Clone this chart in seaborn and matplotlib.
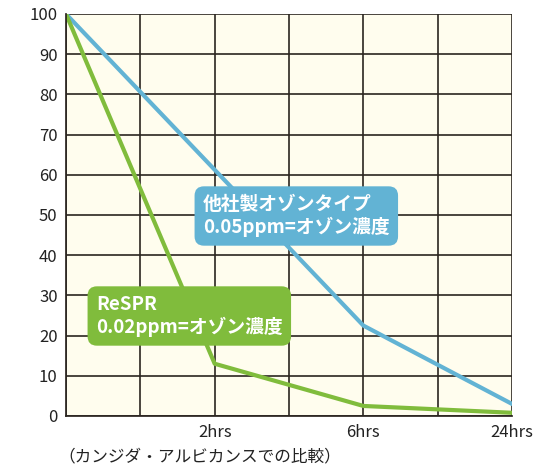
import matplotlib
matplotlib.use("Agg")
import matplotlib.pyplot as plt
import seaborn as sns
import pandas as pd

sns.set_theme(style="white")
plt.rcParams['font.family'] = ['Noto Sans CJK JP', 'DejaVu Sans']

x_pos = [0, 2, 4, 6]
respr = [100, 13, 2.5, 0.8]
x_other = [0, 4, 6]
y_other = [100, 22.5, 3]
tick_pos = [2, 4, 6]
tick_labels = ["2hrs", "6hrs", "24hrs"]

fig = plt.figure(figsize=(5.6, 4.7), dpi=100)
ax = fig.add_axes([66/560, 1-416/470, (512-66)/560, (416-14)/470])
ax.set_facecolor("#fffdee")

df_o = pd.DataFrame({"x": x_other, "y": y_other})
df_r = pd.DataFrame({"x": x_pos, "y": respr})
sns.lineplot(data=df_o, x="x", y="y", ax=ax, color="#62b3d4", lw=3)
sns.lineplot(data=df_r, x="x", y="y", ax=ax, color="#80bc3c", lw=3)

ax.set_xlim(0, 6)
ax.set_ylim(0, 100)
ax.set_yticks(range(0, 101, 10))
ax.set_xticks(tick_pos, tick_labels)
ax.set_xticks(range(7), minor=True)
ax.grid(True, which="both", color="#2b2520", lw=1.2)
ax.set_axisbelow(True)
for s in ax.spines.values():
    s.set_visible(False)
ax.spines['left'].set_visible(True)
ax.spines['left'].set_color("#2b2520")
ax.spines['bottom'].set_visible(True)
ax.spines['bottom'].set_color("#2b2520")
ax.tick_params(axis='both', length=0, labelsize=12, colors="#222222", pad=6)
ax.set_xlabel("")
ax.set_ylabel("")

ax.text((203-66)/446, 1-(216-14)/402, "他社製オゾンタイプ\n0.05ppm=オゾン濃度", transform=ax.transAxes,
        ha="left", va="center", color="white", fontsize=13.5, fontweight="bold", linespacing=1.2,
        bbox=dict(boxstyle="round,pad=0.45,rounding_size=0.5", fc="#62b3d4", ec="none"))
ax.text((96-66)/446, 1-(316-14)/402, "ReSPR\n0.02ppm=オゾン濃度", transform=ax.transAxes,
        ha="left", va="center", color="white", fontsize=13.5, fontweight="bold", linespacing=1.2,
        bbox=dict(boxstyle="round,pad=0.45,rounding_size=0.5", fc="#80bc3c", ec="none"))

fig.text(58/560, 1-457/470, "（カンジダ・アルビカンスでの比較）", fontsize=12, color="#222222", va="center")
fig.savefig("out.png", dpi=100)
